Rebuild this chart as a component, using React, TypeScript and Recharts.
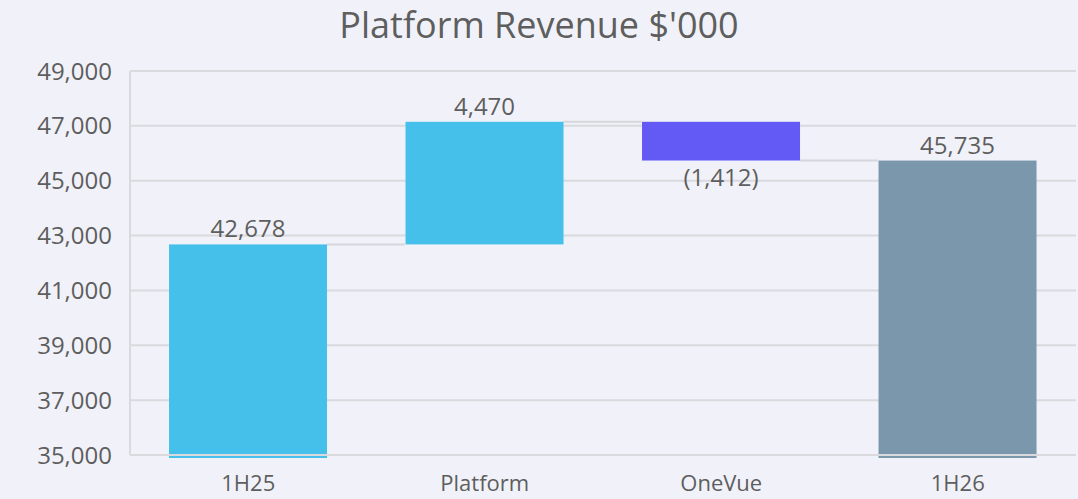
import React from 'react';
import { BarChart, Bar, XAxis, YAxis, CartesianGrid, LabelList } from 'recharts';

document.body.style.margin = '0';

const categories = ['1H25', 'Platform', 'OneVue', '1H26'];
const values = [42678, 4470, -1412, 45735];
const kinds = ['total', 'delta', 'delta', 'total'];
const labels = ['42,678', '4,470', '(1,412)', '45,735'];
const colors = ['#45c0ea', '#45c0ea', '#6359f5', '#7a97ab'];
const yTicks = [35000, 37000, 39000, 41000, 43000, 45000, 47000, 49000];

const FLOOR = 35000;
const GAP = 0.165;
const FONT = '"Open Sans", sans-serif';

// running totals -> [low, high] range for each bar
let running = 0;
const chartData = categories.map((name, i) => {
  const v = values[i];
  let range: number[];
  if (kinds[i] === 'total') {
    running = v;
    range = [FLOOR, v];
  } else {
    const start = running;
    running = start + v;
    range = [Math.min(start, running), Math.max(start, running)];
  }
  return {
    name,
    range,
    label: labels[i],
    color: colors[i],
    total: kinds[i] === 'total',
    neg: v < 0,
    last: i === categories.length - 1,
  };
});

const fmt = (n: number) => n.toLocaleString('en-US');

const WaterfallBar = (props: any) => {
  const { x, y, width, height, payload } = props;
  const gap = (width * 2 * GAP) / (1 - 2 * GAP);
  const ly = payload.neg ? y + height : y;
  return (
    <g>
      {!payload.last && (
        <line x1={x + width} x2={x + width + gap} y1={ly} y2={ly} stroke="#d6d6dc" strokeWidth={2} />
      )}
      <rect x={x} y={y} width={width} height={payload.total ? height + 3 : height} fill={payload.color} />
    </g>
  );
};

const BarLabel = (props: any) => {
  const { x, y, width, height, index } = props;
  const row = chartData[index];
  const ty = row.neg ? y + height + 25 : y - 7;
  return (
    <text x={x + width / 2} y={ty} textAnchor="middle" fill="#5e5e5e" fontSize={24} fontFamily={FONT}>
      {row.label}
    </text>
  );
};

export default function App() {
  return (
    <div style={{ position: 'relative', width: 1078, height: 499, background: '#f1f2f9', fontFamily: FONT }}>
      <div
        style={{
          position: 'absolute',
          top: 0,
          left: 0,
          width: 1078,
          textAlign: 'center',
          fontSize: 36,
          color: '#5e5e5e',
        }}
      >
        Platform Revenue $'000
      </div>
      <BarChart
        width={1078}
        height={499}
        data={chartData}
        margin={{ top: 71, right: 2, bottom: 0, left: 8 }}
        barCategoryGap={`${GAP * 100}%`}
      >
        <CartesianGrid vertical={false} stroke="#d9d9de" strokeWidth={2} />
        <Bar dataKey="range" shape={<WaterfallBar />} isAnimationActive={false}>
          <LabelList dataKey="label" content={<BarLabel />} />
        </Bar>
        <XAxis
          dataKey="name"
          height={44}
          tickLine={false}
          axisLine={{ stroke: '#d9d9de', strokeWidth: 2 }}
          tick={{ fill: '#5e5e5e', fontSize: 22, fontFamily: FONT }}
          dy={12}
        />
        <YAxis
          domain={[35000, 49000]}
          ticks={yTicks}
          tickFormatter={fmt}
          width={122}
          tickLine={false}
          axisLine={{ stroke: '#d9d9de', strokeWidth: 2 }}
          tick={{ fill: '#5e5e5e', fontSize: 24, fontFamily: FONT }}
          dx={-10}
        />
      </BarChart>
    </div>
  );
}
